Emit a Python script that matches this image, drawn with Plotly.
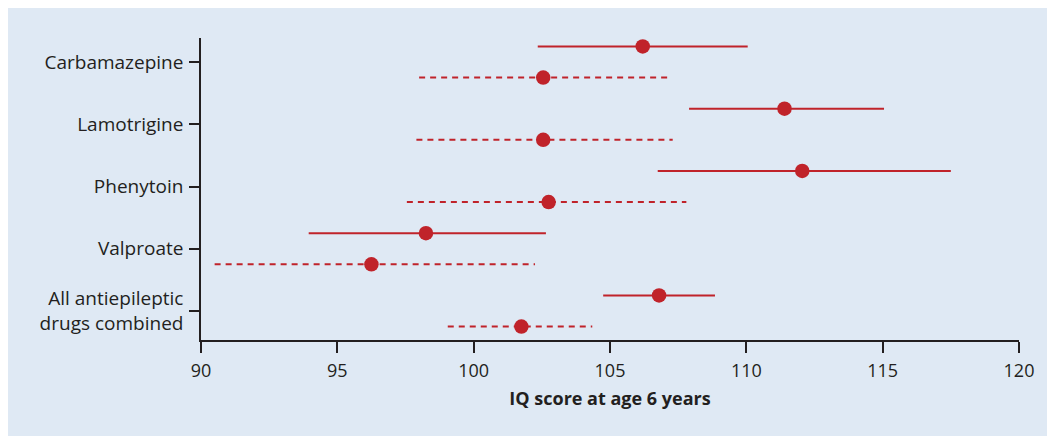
import plotly.graph_objects as go

drugs = ["Carbamazepine", "Lamotrigine", "Phenytoin", "Valproate", "All antiepileptic<br>drugs combined"]
# solid series
solid_mean = [106.2, 111.4, 112.05, 98.25, 106.8]
solid_lo = [102.35, 107.9, 106.75, 93.95, 104.75]
solid_hi = [110.05, 115.05, 117.5, 102.65, 108.85]
# dashed series
dash_mean = [102.55, 102.55, 102.75, 96.25, 101.75]
dash_lo = [98.0, 97.9, 97.55, 90.5, 99.05]
dash_hi = [107.2, 107.3, 107.8, 102.25, 104.35]

xticks = [90, 95, 100, 105, 110, 115, 120]

RED = "#c0232a"
BG = "#dfe9f4"
TXT = "#231f20"
FONT = "Open Sans"

n = len(drugs)
ypos = [n - 1 - i for i in range(n)]
off = 0.25

def seg(lo, hi, y):
    xs, ys = [], []
    for a, b, c in zip(lo, hi, y):
        xs += [a, b, None]
        ys += [c, c, None]
    return xs, ys

fig = go.Figure()
ys_solid = [p + off for p in ypos]
ys_dash = [p - off for p in ypos]

sx, sy = seg(solid_lo, solid_hi, ys_solid)
dx, dy = seg(dash_lo, dash_hi, ys_dash)
fig.add_trace(go.Scatter(x=sx, y=sy, mode="lines", line=dict(color=RED, width=2), hoverinfo="skip"))
fig.add_trace(go.Scatter(x=dx, y=dy, mode="lines", line=dict(color=RED, width=2, dash="6px,5px"), hoverinfo="skip"))
fig.add_trace(go.Scatter(x=solid_mean, y=ys_solid, mode="markers", marker=dict(color=RED, size=14.5)))
fig.add_trace(go.Scatter(x=dash_mean, y=ys_dash, mode="markers", marker=dict(color=RED, size=14.5)))

# page body has an 8px margin; figure sized so the panel ends at the window edge
W, H = 1047, 429
L, R, T, B = 193, 36, 30, 97

fig.update_layout(
    width=W, height=H,
    margin=dict(l=L, r=R, t=T, b=B, pad=0),
    paper_bgcolor=BG, plot_bgcolor=BG,
    showlegend=False,
    font=dict(family=FONT, size=18, color=TXT),
    xaxis=dict(range=[90, 120], tickvals=xticks, ticktext=[str(v) for v in xticks],
               showgrid=False, zeroline=False, showline=True, linecolor=TXT, linewidth=1.5,
               ticks="outside", ticklen=11, tickwidth=1.5, tickcolor=TXT,
               ticklabelstandoff=3, tickfont=dict(size=18),
               title=dict(text="<b>IQ score at age 6 years</b>", font=dict(family=FONT, size=18, color=TXT), standoff=11)),
    yaxis=dict(range=[-0.466, 4.386], tickvals=ypos, ticktext=drugs,
               showgrid=False, zeroline=False, showline=True, linecolor=TXT, linewidth=1.5,
               ticks="outside", ticklen=10, tickwidth=1.5, tickcolor=TXT,
               ticklabelstandoff=2, tickfont=dict(size=19)),
)

fig.write_html("out.html")
